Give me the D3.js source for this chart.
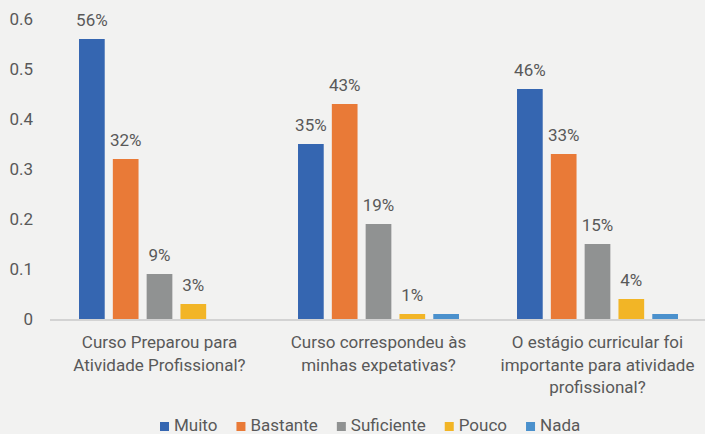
<!DOCTYPE html>
<html>
<head>
<meta charset="utf-8">
<script src="https://cdn.jsdelivr.net/npm/d3@7"></script>
<style>
  html, body { margin: 0; padding: 0; background: #f2f2f1; }
  svg { display: block; font-family: Roboto, sans-serif; }
</style>
</head>
<body>
<svg id="chart" width="705" height="434"></svg>
<script>
const categories = [
  ['Curso Preparou para', 'Atividade Profissional?'],
  ['Curso correspondeu às', 'minhas expetativas?'],
  ['O estágio curricular foi', 'importante para atividade', 'profissional?']
]
const seriesNames = ['Muito', 'Bastante', 'Suficiente', 'Pouco', 'Nada']
const muito = [0.56, 0.35, 0.46]
const bastante = [0.32, 0.43, 0.33]
const suficiente = [0.09, 0.19, 0.15]
const pouco = [0.03, 0.01, 0.04]
const nada = [0, 0.01, 0.01]
const yTicks = [0, 0.1, 0.2, 0.3, 0.4, 0.5, 0.6]
const colors = ['#3566b1', '#e97a37', '#909292', '#f2b526', '#4b91cd']

const seriesValues = [muito, bastante, suficiente, pouco, nada]
// Nada values are not labelled in the original
const showLabel = [true, true, true, true, false]

const svg = d3.select('#chart')
const textColor = '#595959'
const fontSize = '17px'

const x0 = d3.scaleBand()
  .domain(d3.range(categories.length))
  .range([50, 707])
  .paddingInner(0.265)
  .paddingOuter(0.1325)

const x1 = d3.scaleBand()
  .domain(d3.range(seriesNames.length))
  .range([0, x0.bandwidth()])
  .paddingInner(0.24)

const y = d3.scaleLinear().domain([0, 0.6]).range([319, 19])

// y tick labels (no axis line)
svg.append('g')
  .selectAll('text')
  .data(yTicks)
  .join('text')
  .attr('x', 33)
  .attr('y', d => y(d))
  .attr('dy', '0.35em')
  .attr('text-anchor', 'end')
  .attr('fill', textColor)
  .style('font-size', fontSize)
  .text(d => d === 0 ? '0' : d.toFixed(1))

const groups = svg.append('g')
  .selectAll('g')
  .data(categories)
  .join('g')
  .attr('transform', (d, i) => `translate(${x0(i)},0)`)

groups.each(function (cat, ci) {
  const g = d3.select(this)
  seriesValues.forEach((vals, si) => {
    const v = vals[ci]
    g.append('rect')
      .attr('x', x1(si))
      .attr('y', y(v))
      .attr('width', x1.bandwidth())
      .attr('height', y(0) - y(v))
      .attr('fill', colors[si])
    if (showLabel[si]) {
      g.append('text')
        .attr('x', x1(si) + x1.bandwidth() / 2)
        .attr('y', y(v) - 13)
        .attr('text-anchor', 'middle')
        .attr('fill', textColor)
        .style('font-size', fontSize)
        .text(Math.round(v * 100) + '%')
    }
  })
})

// baseline
svg.append('line')
  .attr('x1', 50).attr('x2', 705)
  .attr('y1', y(0) + 1).attr('y2', y(0) + 1)
  .attr('stroke', '#d3d3d3')
  .attr('stroke-width', 2)

// category labels
svg.append('g')
  .selectAll('text')
  .data(categories)
  .join('text')
  .attr('x', (d, i) => x0(i) + x0.bandwidth() / 2)
  .attr('y', 348)
  .attr('text-anchor', 'middle')
  .attr('fill', textColor)
  .style('font-size', fontSize)
  .each(function (lines) {
    d3.select(this).selectAll('tspan')
      .data(lines)
      .join('tspan')
      .attr('x', d3.select(this).attr('x'))
      .attr('dy', (d, i) => i === 0 ? 0 : 22.5)
      .text(d => d)
  })

// legend
const legend = svg.append('g').attr('transform', 'translate(160,431)')
let lx = 0
seriesNames.forEach((name, i) => {
  legend.append('rect')
    .attr('x', lx).attr('y', -9)
    .attr('width', 9).attr('height', 9)
    .attr('fill', colors[i])
  const t = legend.append('text')
    .attr('x', lx + 14)
    .attr('y', 0)
    .attr('fill', textColor)
    .style('font-size', fontSize)
    .text(name)
  lx += 14 + t.node().getComputedTextLength() + 19
})
</script>
</body>
</html>
